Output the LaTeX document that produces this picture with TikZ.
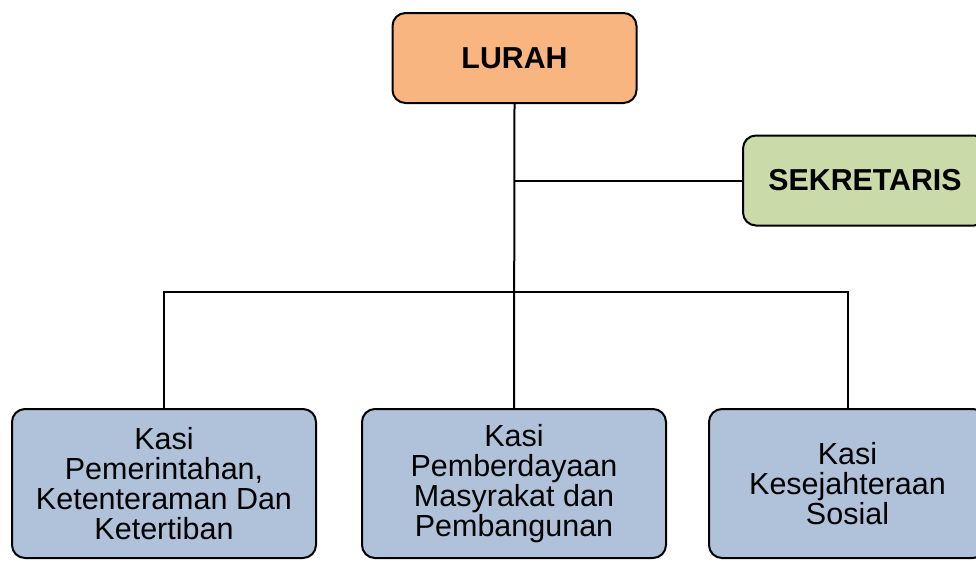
\documentclass[tikz,border=0pt]{standalone}
\usepackage{fontspec}
\setmainfont{Liberation Sans}
\definecolor{lurahfill}{HTML}{F8B57F}
\definecolor{sekfill}{HTML}{CADBA9}
\definecolor{kasifill}{HTML}{B0C2DA}
\begin{document}
\begin{tikzpicture}[x=1pt,y=-1pt,
  box/.style={draw=black,line width=2pt,rounded corners=13pt,align=center,inner sep=0pt},
  topbox/.style={box,font=\fontsize{30.3}{31}\selectfont\bfseries,minimum width=244pt,minimum height=90pt},
  kasibox/.style={box,font=\fontsize{30.5}{30}\selectfont,minimum height=149pt},
  conn/.style={line width=2pt,draw=black}]
\useasboundingbox (0,0) rectangle (976,560);
\node[topbox,fill=lurahfill] (lurah) at (514.5,58) {LURAH};
\node[topbox,fill=sekfill] (sek) at (865,180.5) {SEKRETARIS};
\node[kasibox,fill=kasifill,minimum width=304pt] (k1) at (164,483.5) {Kasi\\Pemerintahan,\\Ketenteraman Dan\\Ketertiban};
\node[kasibox,fill=kasifill,minimum width=304pt] (k2) at (514,483.5) {Kasi\\Pemberdayaan\\Masyrakat dan\\Pembangunan};
\node[kasibox,fill=kasifill,minimum width=277pt] (k3) at (847.5,483.5) {Kasi\\Kesejahteraan\\Sosial};
\coordinate (j1) at (514,180.5);
\coordinate (bl) at (164,292);
\coordinate (br) at (848,292);
\draw[conn] (lurah.south) -- (k2.north);
\draw[conn] (j1) -- (sek.west);
\draw[conn] (k1.north) -- (bl) -- (br) -- (k3.north -| br);
\end{tikzpicture}
\end{document}
